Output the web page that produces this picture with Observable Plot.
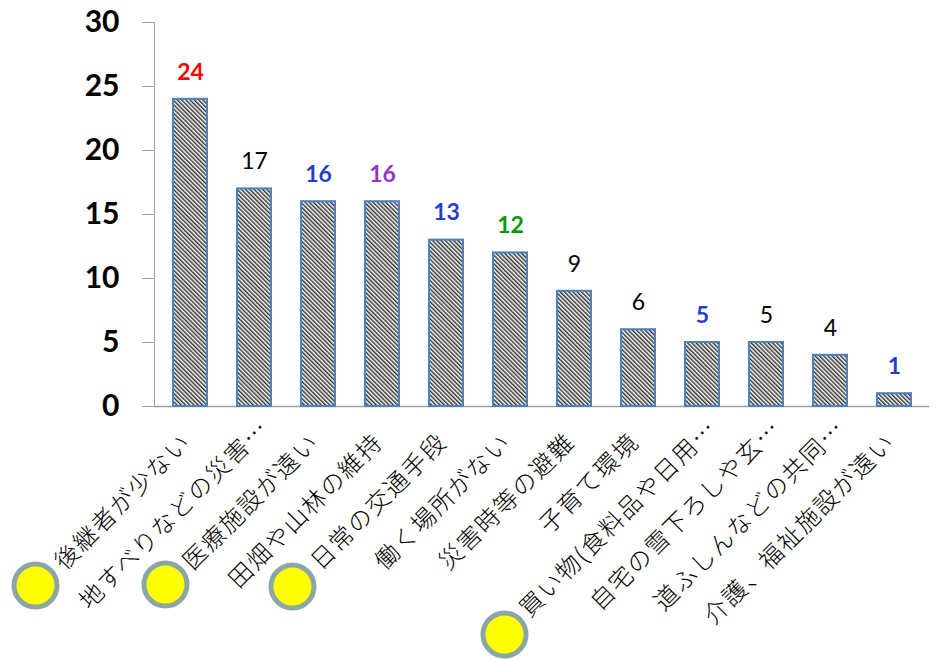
<!DOCTYPE html>
<html><head><meta charset="utf-8">
<script src="https://cdn.jsdelivr.net/npm/d3@7"></script>
<script src="https://cdn.jsdelivr.net/npm/@observablehq/plot@0.6"></script>
<style>body{margin:0;background:#fff}</style>
</head><body><div id="chart"></div>
<script>
const categories = ["後継者が少ない","地すべりなどの災害…","医療施設が遠い","田畑や山林の維持","日常の交通手段","働く場所がない","災害時等の避難","子育て環境","買い物(食料品や日用…","自宅の雪下ろしや玄…","道ふしんなどの共同…","介護、福祉施設が遠い"];
const values = [24,17,16,16,13,12,9,6,5,5,4,1];
const labelColors = ["#ff0000","#000000","#1f3fcc","#9933cc","#1f3fcc","#009900","#000000","#000000","#1f3fcc","#000000","#000000","#1f3fcc"];
const labelBold = [true,false,true,true,true,true,false,false,true,false,false,true];
const yTicks = [0,5,10,15,20,25,30];
const marked = [categories[0], categories[2], categories[4], categories[8]];

const data = categories.map((c,i)=>({cat:c, value:values[i], color:labelColors[i], bold:labelBold[i]}));
const truncated = d => d.cat.endsWith("…");

const dotStyle = {r: 21.5, fill: "#ffff00", stroke: "#8ca5a5", strokeWidth: 5, frameAnchor: "bottom"};
const labelStyle = {x: "cat", frameAnchor: "bottom", text: "cat", rotate: -45, textAnchor: "end", lineAnchor: "top", fontSize: 24, fontWeight: 300, fontFamily: "'Noto Sans CJK JP', sans-serif", fill: "#000", ariaDescription: "xlabels"};

const svg = Plot.plot({
  width: 936, height: 659,
  marginLeft: 154, marginRight: 7, marginTop: 22, marginBottom: 253,
  x: {domain: categories, paddingInner: 0.47, paddingOuter: 0.235, axis: null},
  y: {domain: [0,30], axis: null},
  style: {fontFamily: "Lato, sans-serif", background: "#fff", color: "#000", overflow: "visible"},
  marks: [
    Plot.axisY({ticks: yTicks, tickSize: 12, tickPadding: 23, fontSize: 30, fontWeight: "bold", stroke: "#a0a0a0", label: null, tickFormat: d => String(d)}),
    Plot.frame({anchor: "left", stroke: "#a0a0a0"}),
    Plot.ruleY([0], {stroke: "#a0a0a0", strokeWidth: 1.5}),
    Plot.barY(data, {x: "cat", y: "value", fill: "url(#hatch)", stroke: "#4f81bd", strokeWidth: 2}),
    Plot.text(data.filter(d => d.bold), {x: "cat", y: "value", text: d => String(d.value), fill: "color", fontWeight: "bold", fontSize: 23, lineAnchor: "middle", dy: -27}),
    Plot.text(data.filter(d => !d.bold), {x: "cat", y: "value", text: d => String(d.value), fill: "color", fontSize: 23, lineAnchor: "middle", dy: -27}),
    Plot.dot([marked[0]], {x: d => d, dx: -155, dy: 179, ...dotStyle}),
    Plot.dot([marked[1]], {x: d => d, dx: -153, dy: 178, ...dotStyle}),
    Plot.dot([marked[2]], {x: d => d, dx: -154, dy: 180, ...dotStyle}),
    Plot.dot([marked[3]], {x: d => d, dx: -198, dy: 228, ...dotStyle}),
    Plot.text(data.filter(d => !truncated(d)), {...labelStyle, dx: -10, dy: 25}),
    Plot.text(data.filter(truncated), {...labelStyle, dx: 4, dy: 11})
  ]
});

const defs = d3.select(svg).insert("defs", ":first-child");
const pat = defs.append("pattern").attr("id", "hatch").attr("patternUnits", "userSpaceOnUse")
  .attr("width", 3).attr("height", 3).attr("patternTransform", "rotate(-45)");
pat.append("rect").attr("width", 3).attr("height", 3).attr("fill", "#ffffff");
pat.append("rect").attr("width", 1.5).attr("height", 3).attr("fill", "#333333");
d3.select(svg).selectAll('g[aria-description="xlabels"] text').style("letter-spacing", "1.8px");

document.getElementById("chart").appendChild(svg);
</script>
</body></html>
